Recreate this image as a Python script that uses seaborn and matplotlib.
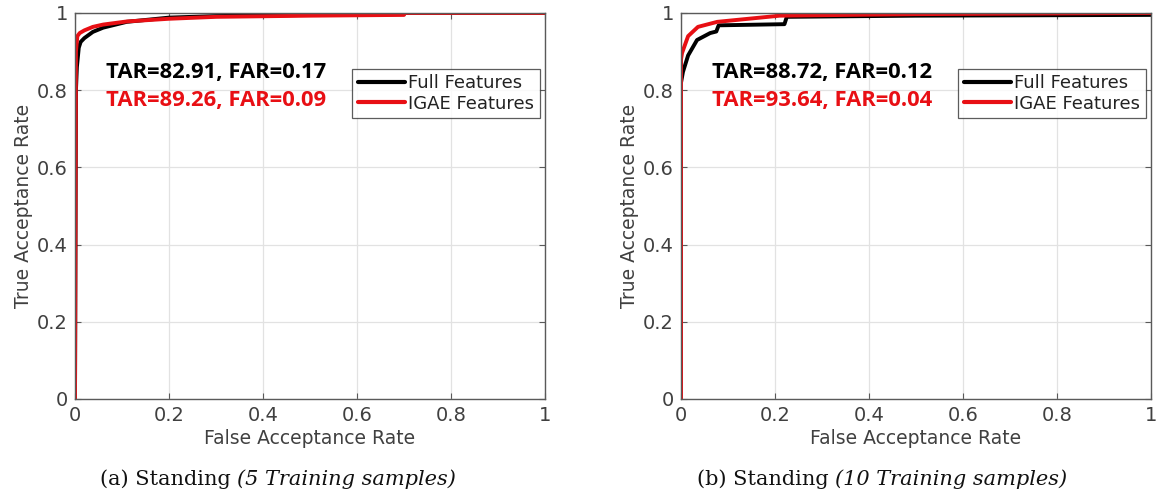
"""ROC curves, Standing, 5 vs 10 training samples."""
import matplotlib.pyplot as plt
import pandas as pd
import seaborn as sns

# ---------------------------------------------------------------------------
# data
# ---------------------------------------------------------------------------
FAR_FULL_5 = [0.0, 0.002, 0.004, 0.008, 0.012, 0.02, 0.038, 0.06, 0.11, 0.2, 0.3, 0.5, 0.7, 0.7, 1.0]
TAR_FULL_5 = [0.0, 0.80, 0.86, 0.91, 0.925, 0.935, 0.951, 0.962, 0.977, 0.988, 0.992, 0.995, 0.997, 1.0, 1.0]
FAR_IGAE_5 = [0.0, 0.002, 0.005, 0.01, 0.02, 0.038, 0.06, 0.11, 0.2, 0.3, 0.5, 0.7, 0.7, 1.0]
TAR_IGAE_5 = [0.0, 0.90, 0.94, 0.948, 0.955, 0.964, 0.97, 0.978, 0.985, 0.99, 0.993, 0.995, 1.0, 1.0]

FAR_FULL_10 = [0.0, 0.0, 0.004, 0.015, 0.034, 0.062, 0.075, 0.08, 0.22, 0.225, 0.5, 1.0]
TAR_FULL_10 = [0.0, 0.82, 0.847, 0.89, 0.93, 0.948, 0.952, 0.968, 0.971, 0.99, 0.993, 0.995]
FAR_IGAE_10 = [0.0, 0.0, 0.002, 0.015, 0.036, 0.077, 0.21, 0.5, 1.0]
TAR_IGAE_10 = [0.0, 0.88, 0.896, 0.94, 0.964, 0.977, 0.993, 0.997, 1.0]

PANELS = [
    ("(a) Standing ", "(5 Training samples)", "TAR=82.91, FAR=0.17", "TAR=89.26, FAR=0.09",
     FAR_FULL_5, TAR_FULL_5, FAR_IGAE_5, TAR_IGAE_5),
    ("(b) Standing ", "(10 Training samples)", "TAR=88.72, FAR=0.12", "TAR=93.64, FAR=0.04",
     FAR_FULL_10, TAR_FULL_10, FAR_IGAE_10, TAR_IGAE_10),
]
TICKS = [0, 0.2, 0.4, 0.6, 0.8, 1]
TICK_LABELS = ["0", "0.2", "0.4", "0.6", "0.8", "1"]

RED = "#e80f14"
GRAY = "#404040"

sns.set_theme(style="white")
plt.rcParams["font.family"] = ["DejaVu Sans"]

fig = plt.figure(figsize=(11.63, 5.01), dpi=100)
ax_boxes = [[0.0645, 0.2036, 0.4041, 0.7705], [0.5856, 0.2036, 0.4041, 0.7705]]
cap_x = [0.086, 0.599]

for rect, cx, panel in zip(ax_boxes, cap_x, PANELS):
    cap, cap_it, txt_full, txt_igae, fx, fy, ix, iy = panel
    ax = fig.add_axes(rect)
    df = pd.concat([
        pd.DataFrame({"FAR": fx, "TAR": fy, "Method": "Full Features"}),
        pd.DataFrame({"FAR": ix, "TAR": iy, "Method": "IGAE Features"}),
    ], ignore_index=True)
    sns.lineplot(data=df, x="FAR", y="TAR", hue="Method", units="Method",
                 estimator=None, sort=False,
                 palette={"Full Features": "black", "IGAE Features": RED},
                 linewidth=2.8, ax=ax)

    ax.set_xlim(0, 1)
    ax.set_ylim(0, 1)
    ax.set_xticks(TICKS)
    ax.set_yticks(TICKS)
    ax.set_xticklabels(TICK_LABELS)
    ax.set_yticklabels(TICK_LABELS)
    ax.grid(True, color="#e2e2e2", linewidth=0.9)
    ax.set_axisbelow(True)
    for s in ax.spines.values():
        s.set_visible(True)
        s.set_color("#5a5a5a")
        s.set_linewidth(1.0)
    ax.tick_params(direction="in", length=4, width=0.8, color="#5a5a5a",
                   labelsize=14, labelcolor=GRAY, top=True, right=True,
                   bottom=True, left=True, pad=5)
    ax.set_xlabel("False Acceptance Rate", fontsize=13.5, color=GRAY, labelpad=3)
    ax.set_ylabel("True Acceptance Rate", fontsize=13.5, color=GRAY, labelpad=3)

    leg = ax.legend(loc="upper right", bbox_to_anchor=(0.989, 0.855),
                    fontsize=13, frameon=True, fancybox=False, borderpad=0.3,
                    handlelength=2.6, handletextpad=0.2, labelspacing=0.12,
                    borderaxespad=0)
    leg.get_frame().set_edgecolor("#333333")
    leg.get_frame().set_linewidth(0.9)
    for t in leg.get_texts():
        t.set_color("#222222")
    for h in leg.get_lines():
        h.set_linewidth(3.0)

    ax.text(0.066, 0.847, txt_full, transform=ax.transAxes, color="black",
            fontsize=15.8, fontweight="bold", family=["Open Sans", "DejaVu Sans"],
            va="center", ha="left")
    ax.text(0.066, 0.773, txt_igae, transform=ax.transAxes, color=RED,
            fontsize=15.8, fontweight="bold", family=["Open Sans", "DejaVu Sans"],
            va="center", ha="left")

    t1 = fig.text(cx, 0.032, cap, fontsize=15, family=["DejaVu Serif"],
                  color="#111111", va="baseline", ha="left")
    ax.annotate(cap_it, xy=(1, 0), xycoords=t1, va="bottom", ha="left",
                fontsize=15, family=["DejaVu Serif"], style="italic",
                color="#111111", annotation_clip=False)

fig.savefig("out.png", dpi=100)
